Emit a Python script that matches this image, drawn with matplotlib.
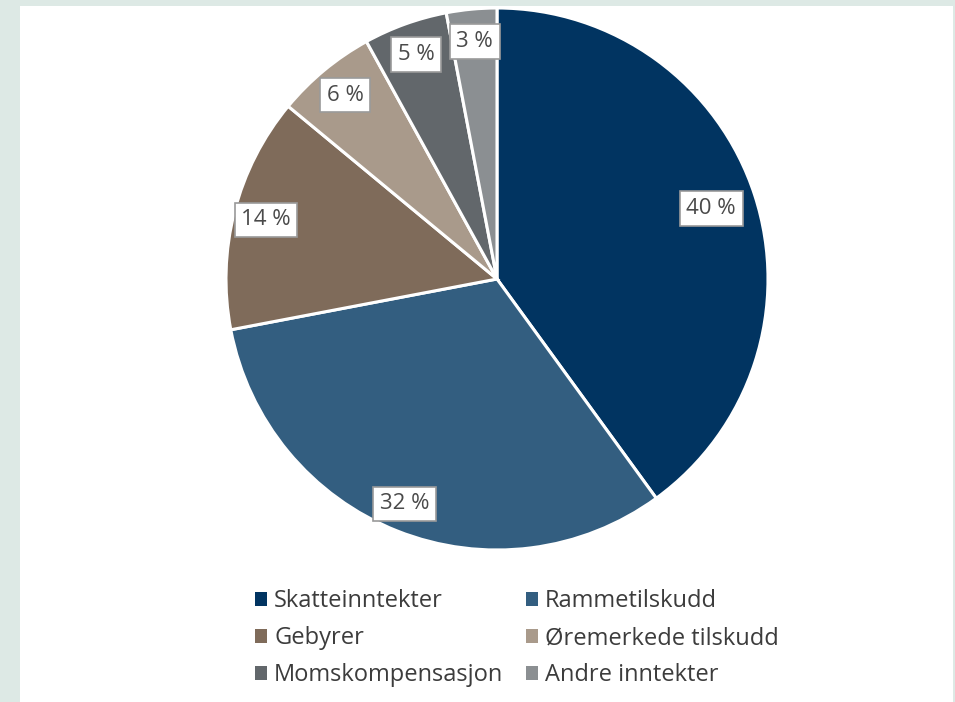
import matplotlib
matplotlib.use("Agg")
import matplotlib.pyplot as plt
from matplotlib.patches import Rectangle

W, H = 955, 702
DPI = 100

categories = ["Skatteinntekter", "Rammetilskudd", "Gebyrer",
              "Øremerkede tilskudd", "Momskompensasjon", "Andre inntekter"]
shares = [40, 32, 14, 6, 5, 3]
colors = ["#013461", "#335e80", "#7f6b5a", "#a99a8b", "#62676b", "#8b8f92"]

plt.rcParams["font.family"] = ["Open Sans", "DejaVu Sans"]

fig = plt.figure(figsize=(W / DPI, H / DPI), dpi=DPI)
fig.patch.set_facecolor("#dde9e5")
# white card
fig.add_artist(Rectangle((20 / W, 0), 933 / W, 1 - 6 / H, transform=fig.transFigure,
                         facecolor="white", edgecolor="none", zorder=0))

cx, cy, r = 497, 279, 271
ax = fig.add_axes([(cx - r) / W, (H - cy - r) / H, 2 * r / W, 2 * r / H])
wedges, _, autotexts = ax.pie(
    shares, colors=colors, startangle=90, counterclock=False,
    autopct=lambda p: f"{p:.0f} %", pctdistance=0.88,
    wedgeprops={"edgecolor": "white", "linewidth": 2.2},
    textprops={"fontsize": 16, "color": "#4a4a4a"},
)
for t in autotexts:
    t.set_bbox({"facecolor": "white", "edgecolor": "#9a9a9a", "linewidth": 1.2,
                "boxstyle": "square,pad=0.3"})
autotexts[0].set_position((0.79, 0.26))
autotexts[1].set_position((-0.34, -0.83))
ax.set_xlim(-1, 1)
ax.set_ylim(-1, 1)
ax.set_aspect("equal")
ax.axis("off")

handles = [Rectangle((0, 0), 1, 1, facecolor=c) for c in colors]
# order so that the two columns read row-wise
order = [0, 2, 4, 1, 3, 5]
fig.legend([handles[i] for i in order], [categories[i] for i in order],
           ncol=2, loc="upper left", bbox_to_anchor=(234 / W, 1 - 568 / H),
           frameon=False, fontsize=17, handlelength=0.5, handleheight=0.5,
           handletextpad=0.3, columnspacing=0.95, labelspacing=0.55,
           labelcolor="#3c3c3c")

fig.savefig("out.png", dpi=DPI)
